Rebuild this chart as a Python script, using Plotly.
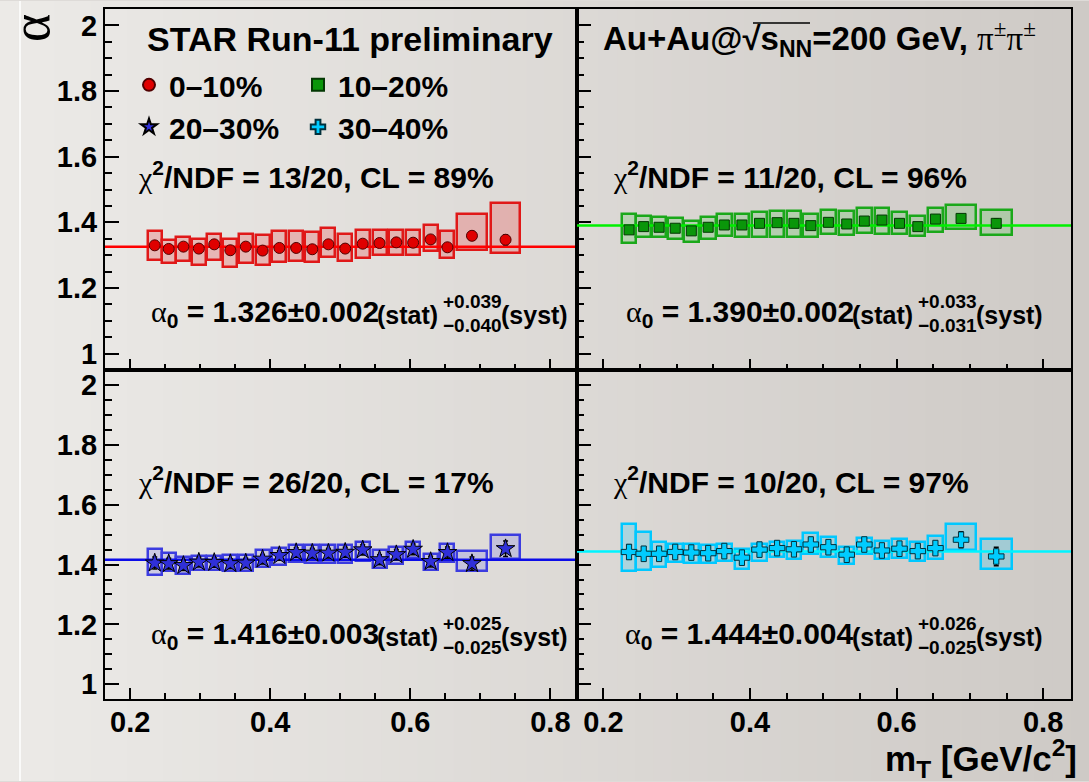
import plotly.graph_objects as go
from plotly.subplots import make_subplots

# ---------------------------------------------------------------- data
M_T = [0.235, 0.255, 0.276, 0.298, 0.320, 0.343, 0.365, 0.389, 0.413, 0.437,
       0.460, 0.483, 0.507, 0.532, 0.556, 0.580, 0.604, 0.629, 0.653, 0.688, 0.736]
BIN_WIDTH = [0.020, 0.020, 0.020, 0.020, 0.020, 0.020, 0.020, 0.020, 0.020, 0.020,
             0.020, 0.020, 0.020, 0.020, 0.020, 0.020, 0.020, 0.020, 0.020, 0.042, 0.042]

CENTRALITY = ["0\u201310%", "10\u201320%", "20\u201330%", "30\u201340%"]

ALPHA_0_10 = [1.330, 1.319, 1.326, 1.320, 1.333, 1.315, 1.326, 1.314, 1.322, 1.322,
              1.318, 1.333, 1.320, 1.335, 1.337, 1.339, 1.338, 1.348, 1.324, 1.359, 1.347]
STAT_0_10 = [0.007, 0.007, 0.006, 0.006, 0.006, 0.006, 0.006, 0.006, 0.006, 0.006,
             0.006, 0.006, 0.007, 0.007, 0.007, 0.007, 0.008, 0.010, 0.011, 0.013, 0.015]
SYS_UP_0_10 = [0.043, 0.028, 0.028, 0.029, 0.032, 0.035, 0.040, 0.049, 0.051, 0.053,
               0.052, 0.050, 0.046, 0.043, 0.039, 0.039, 0.040, 0.043, 0.049, 0.067, 0.111]
SYS_DN_0_10 = [0.045, 0.043, 0.045, 0.051, 0.049, 0.051, 0.050, 0.045, 0.043, 0.041,
               0.039, 0.040, 0.039, 0.044, 0.035, 0.037, 0.036, 0.036, 0.034, 0.042, 0.041]

ALPHA_10_20 = [1.377, 1.387, 1.385, 1.382, 1.374, 1.385, 1.392, 1.392, 1.397, 1.399,
               1.397, 1.390, 1.400, 1.395, 1.404, 1.407, 1.397, 1.387, 1.410, 1.412, 1.397]
STAT_10_20 = [0.009, 0.008, 0.008, 0.008, 0.008, 0.008, 0.008, 0.008, 0.008, 0.008,
              0.008, 0.008, 0.008, 0.008, 0.009, 0.009, 0.009, 0.010, 0.011, 0.012, 0.014]
SYS_UP_10_20 = [0.049, 0.032, 0.030, 0.030, 0.030, 0.030, 0.033, 0.033, 0.035, 0.036,
                0.038, 0.037, 0.037, 0.041, 0.041, 0.038, 0.035, 0.033, 0.035, 0.041, 0.041]
SYS_DN_10_20 = [0.041, 0.032, 0.030, 0.032, 0.035, 0.035, 0.035, 0.037, 0.041, 0.043,
                0.041, 0.035, 0.035, 0.035, 0.037, 0.041, 0.032, 0.030, 0.038, 0.033, 0.035]

ALPHA_20_30 = [1.405, 1.403, 1.397, 1.408, 1.407, 1.403, 1.405, 1.418, 1.430, 1.440,
               1.438, 1.438, 1.441, 1.449, 1.416, 1.433, 1.451, 1.410, 1.440, 1.403, 1.453]
STAT_20_30 = [0.020, 0.018, 0.017, 0.016, 0.016, 0.016, 0.016, 0.016, 0.016, 0.016,
              0.016, 0.016, 0.017, 0.017, 0.017, 0.017, 0.018, 0.018, 0.019, 0.022, 0.026]
SYS_UP_20_30 = [0.048, 0.036, 0.028, 0.022, 0.023, 0.028, 0.026, 0.029, 0.024, 0.026,
                0.026, 0.028, 0.024, 0.026, 0.031, 0.026, 0.023, 0.026, 0.029, 0.041, 0.047]
SYS_DN_20_30 = [0.039, 0.026, 0.028, 0.026, 0.027, 0.026, 0.028, 0.027, 0.031, 0.030,
                0.033, 0.033, 0.037, 0.036, 0.028, 0.030, 0.030, 0.030, 0.030, 0.026, 0.034]

ALPHA_30_40 = [1.442, 1.436, 1.436, 1.442, 1.440, 1.438, 1.445, 1.423, 1.450, 1.455,
               1.451, 1.467, 1.458, 1.433, 1.467, 1.447, 1.453, 1.445, 1.455, 1.483, 1.427]
STAT_30_40 = [0.024, 0.022, 0.020, 0.018, 0.018, 0.018, 0.018, 0.019, 0.018, 0.018,
              0.018, 0.019, 0.019, 0.019, 0.019, 0.019, 0.020, 0.020, 0.021, 0.027, 0.031]
SYS_UP_30_40 = [0.094, 0.072, 0.039, 0.028, 0.027, 0.026, 0.024, 0.028, 0.020, 0.020,
                0.027, 0.039, 0.033, 0.026, 0.022, 0.031, 0.033, 0.030, 0.039, 0.053, 0.059]
SYS_DN_30_40 = [0.064, 0.056, 0.044, 0.033, 0.034, 0.033, 0.034, 0.037, 0.038, 0.030,
                0.031, 0.033, 0.033, 0.030, 0.031, 0.030, 0.030, 0.034, 0.038, 0.036, 0.041]

# constant fits alpha(m_T) = alpha_0
ALPHA0 = [1.326, 1.390, 1.416, 1.444]
ALPHA0_STAT = [0.002, 0.002, 0.003, 0.004]
ALPHA0_SYS_UP = [0.039, 0.033, 0.025, 0.026]
ALPHA0_SYS_DN = [0.040, 0.031, 0.025, 0.025]
CHI2 = [13, 11, 26, 10]
NDF = [20, 20, 20, 20]
CL = [89, 96, 17, 97]

X_RANGE = [0.164, 0.838]
Y_RANGE = [0.95, 2.05]

# ---------------------------------------------------------------- style
W, H = 1089, 782
SANS = "Liberation Sans, Arial, sans-serif"
SERIF_SPAN = '<span style="font-family:Liberation Serif;font-weight:normal">{}</span>'

series = [
    dict(name=CENTRALITY[0], y=ALPHA_0_10, stat=STAT_0_10, up=SYS_UP_0_10, dn=SYS_DN_0_10,
         row=1, col=1, symbol="circle", size=11, color="#e00000", edge="#500000",
         box_line="#e01818", box_fill="rgba(235,70,70,0.28)", fit="#ff0000", legend="legend"),
    dict(name=CENTRALITY[1], y=ALPHA_10_20, stat=STAT_10_20, up=SYS_UP_10_20, dn=SYS_DN_10_20,
         row=1, col=2, symbol="square", size=10, color="#0a960a", edge="#033803",
         box_line="#1aa81a", box_fill="rgba(60,190,60,0.22)", fit="#00f000", legend="legend2"),
    dict(name=CENTRALITY[2], y=ALPHA_20_30, stat=STAT_20_30, up=SYS_UP_20_30, dn=SYS_DN_20_30,
         row=2, col=1, symbol="star", size=14, color="#3030d8", edge="#000000",
         box_line="#3c3ce0", box_fill="rgba(80,80,235,0.18)", fit="#0c0ce8", legend="legend"),
    dict(name=CENTRALITY[3], y=ALPHA_30_40, stat=STAT_30_40, up=SYS_UP_30_40, dn=SYS_DN_30_40,
         row=2, col=2, symbol="cross", size=13, color="#00ccff", edge="#00303c",
         box_line="#00c8ff", box_fill="rgba(0,200,255,0.22)", fit="#00f4ff", legend="legend2"),
]

fig = make_subplots(rows=2, cols=2, horizontal_spacing=0, vertical_spacing=0)

for i, s in enumerate(series):
    base = [v - d for v, d in zip(s["y"], s["dn"])]
    height = [u + d for u, d in zip(s["up"], s["dn"])]
    # systematic uncertainty boxes
    fig.add_trace(go.Bar(
        x=M_T, y=height, base=base, width=BIN_WIDTH,
        marker=dict(color=s["box_fill"], line=dict(color=s["box_line"], width=2.5)),
        showlegend=False, hoverinfo="skip"), row=s["row"], col=s["col"])
    # constant fit
    fig.add_trace(go.Scatter(
        x=X_RANGE, y=[ALPHA0[i], ALPHA0[i]], mode="lines",
        line=dict(color=s["fit"], width=2.5), showlegend=False, hoverinfo="skip"),
        row=s["row"], col=s["col"])
    # measured points with statistical errors
    fig.add_trace(go.Scatter(
        x=M_T, y=s["y"], mode="markers", name=s["name"], legend=s["legend"],
        marker=dict(symbol=s["symbol"], size=s["size"], color=s["color"],
                    line=dict(color=s["edge"], width=1)),
        error_y=dict(type="data", array=s["stat"], color="black", thickness=1.5, width=2.5),
        showlegend=True), row=s["row"], col=s["col"])

# ---------------------------------------------------------------- axes
x_domains = [[105 / W, 577 / W], [577 / W, 1071 / W]]
y_domains = [[1 - 370 / H, 1 - 8 / H], [1 - 700 / H, 1 - 370 / H]]
tickfont = dict(family=SANS, size=29, color="black", weight="bold")

for r in (1, 2):
    for c in (1, 2):
        fig.update_xaxes(
            domain=x_domains[c - 1], range=X_RANGE, tick0=0, dtick=0.2,
            ticks="inside", ticklen=11, tickwidth=1.5, tickcolor="black",
            minor=dict(dtick=0.05, ticks="inside", ticklen=6, tickwidth=1.5, tickcolor="black"),
            showline=True, linecolor="black", linewidth=2, mirror=True,
            showgrid=False, zeroline=False, showticklabels=(r == 2),
            ticklabelstandoff=-4, tickfont=tickfont, row=r, col=c)
        fig.update_yaxes(
            domain=y_domains[r - 1], range=Y_RANGE, tick0=0, dtick=0.2,
            ticks="inside", ticklen=14, tickwidth=1.5, tickcolor="black",
            minor=dict(dtick=0.05, ticks="inside", ticklen=7, tickwidth=1.5, tickcolor="black"),
            showline=True, linecolor="black", linewidth=2, mirror=True,
            showgrid=False, zeroline=False, showticklabels=(c == 1),
            tickfont=tickfont, row=r, col=c)

# ---------------------------------------------------------------- background
shapes = []
n_strips = 60
left_rgb, right_rgb = (236, 234, 231), (206, 202, 198)
for k in range(n_strips):
    t = k / (n_strips - 1)
    rgb = tuple(round(a + (b - a) * t) for a, b in zip(left_rgb, right_rgb))
    shapes.append(dict(type="rect", xref="paper", yref="paper", layer="below",
                       x0=k / n_strips, x1=(k + 1) / n_strips + 0.002, y0=0, y1=1,
                       fillcolor="rgb(%d,%d,%d)" % rgb, line=dict(width=0)))
shapes.append(dict(type="line", xref="paper", yref="paper", layer="below",
                   x0=20 / W, x1=20 / W, y0=0, y1=1, line=dict(color="white", width=1.5)))
# overline of the square root in sqrt(s_NN)
shapes.append(dict(type="line", xref="paper", yref="paper", layer="above",
                   x0=753 / W, x1=810 / W, y0=1 - 22 / H, y1=1 - 22 / H,
                   line=dict(color="black", width=1.5)))


# ---------------------------------------------------------------- text
def label(text, x, y, size, anchor="left", angle=0, family=SANS, weight="bold"):
    return dict(text=text, x=x / W, y=1 - y / H, xref="paper", yref="paper",
                xanchor=anchor, yanchor="middle", showarrow=False, textangle=angle,
                borderpad=0, borderwidth=0,
                font=dict(family=family, size=size, color="black", weight=weight))


chi = SERIF_SPAN.format("\u03c7")
alpha = SERIF_SPAN.format("\u03b1")
pi = SERIF_SPAN.format("\u03c0<sup>\u00b1</sup>\u03c0<sup>\u00b1</sup>")

annotations = [
    label("STAR Run-11 preliminary", 147, 38, 34),
    label("Au+Au@\u221as<sub>NN</sub>=200 GeV, " + pi, 603, 38, 33),
    label("\u03b1", 31, 27, 54, anchor="center", angle=-90,
          family="Liberation Serif, serif", weight="normal"),
    label("m<sub>T</sub> [GeV/c<sup>2</sup>]", 1077, 759, 35, anchor="right"),
]

panel_offsets = [(0, 174, 313), (475, 174, 313), (0, 480, 636), (475, 480, 636)]
for i, (dx, y_chi, y_a0) in enumerate(panel_offsets):
    annotations.append(label(
        "%s<sup>2</sup>/NDF = %d/%d, CL = %d%%" % (chi, CHI2[i], NDF[i], CL[i]),
        138 + dx, y_chi, 30))
    annotations.append(label(
        "%s<sub>0</sub> = %.3f\u00b1%.3f" % (alpha, ALPHA0[i], ALPHA0_STAT[i]),
        379 + dx, y_a0, 30, anchor="right"))
    annotations.append(label("(stat)", 377 + dx, y_a0 + 2, 25))
    annotations.append(label("+%.3f" % ALPHA0_SYS_UP[i], 443 + dx, y_a0 - 12, 19))
    annotations.append(label("\u2212%.3f" % ALPHA0_SYS_DN[i], 443 + dx, y_a0 + 12, 19))
    annotations.append(label("(syst)", 501 + dx, y_a0 + 2, 25))

legend_common = dict(orientation="v", xanchor="left", yanchor="top",
                     bgcolor="rgba(0,0,0,0)", borderwidth=0, tracegroupgap=0,
                     itemsizing="constant",
                     font=dict(family=SANS, size=30, color="black", weight="bold"))

fig.update_layout(
    width=W, height=H, margin=dict(l=0, r=0, t=0, b=0),
    paper_bgcolor="rgb(222,219,216)", plot_bgcolor="rgba(0,0,0,0)",
    barmode="overlay", bargap=0,
    shapes=shapes, annotations=annotations,
    legend=dict(x=129 / W, y=1 - 58 / H, **legend_common),
    legend2=dict(x=298 / W, y=1 - 58 / H, **legend_common),
    font=dict(family=SANS, color="black"),
)

fig.write_html("out.html")
